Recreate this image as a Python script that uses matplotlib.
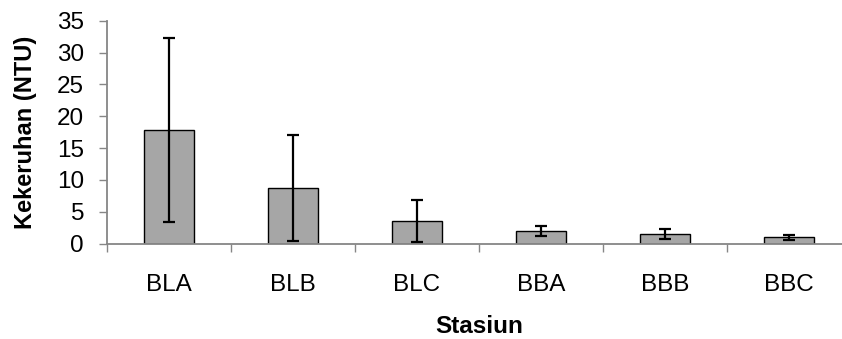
"""
Kekeruhan per stasiun (bar + error bar)
"""

import matplotlib
matplotlib.use("Agg")
import matplotlib.pyplot as plt
import numpy as np

# data
stasiun = ["BLA", "BLB", "BLC", "BBA", "BBB", "BBC"]
kekeruhan = [17.8, 8.7, 3.6, 1.95, 1.5, 0.95]
sd = [14.5, 8.3, 3.3, 0.75, 0.8, 0.4]
y_ticks = [0, 5, 10, 15, 20, 25, 30, 35]

plt.rcParams["font.family"] = ["Liberation Sans", "DejaVu Sans"]

fig = plt.figure(figsize=(8.42, 3.39), dpi=100)
ax = fig.add_axes([107 / 842, 95.5 / 339, 744 / 842, 222.8 / 339])

x = np.arange(len(stasiun))
ax.bar(x, kekeruhan, width=0.4, color="#a6a6a6", edgecolor="black", linewidth=1.0, zorder=2)
ax.errorbar(x, kekeruhan, yerr=sd, fmt="none", ecolor="black", elinewidth=1.6,
            capsize=4, capthick=1.6, zorder=3)

ax.set_xlim(-0.5, len(stasiun) - 0.5)
ax.set_ylim(0, 35)
ax.set_yticks(y_ticks)
ax.set_xticks(x)
ax.set_xticklabels(stasiun)
ax.set_xticks(np.arange(len(stasiun) + 1) - 0.5, minor=True)

spine_color = "#868686"
for side in ["top", "right"]:
    ax.spines[side].set_visible(False)
for side in ["left", "bottom"]:
    ax.spines[side].set_color(spine_color)
    ax.spines[side].set_linewidth(1.3)
    ax.spines[side].set_clip_on(False)

ax.tick_params(axis="y", direction="out", length=5.5, width=1.0, color=spine_color,
               labelsize=17.5, pad=11)
ax.tick_params(axis="x", which="major", length=0, labelsize=17.5, pad=22)
ax.tick_params(axis="x", which="minor", direction="out", length=5.5, width=1.0,
               color=spine_color)

ax.set_ylabel("Kekeruhan (NTU)", fontsize=17, fontweight="bold")
ax.yaxis.set_label_coords(-0.094, 0.5)
ax.set_xlabel("Stasiun", fontsize=17.5, fontweight="bold")
ax.xaxis.set_label_coords(0.5, -0.32)

plt.savefig("out.png", dpi=100)
